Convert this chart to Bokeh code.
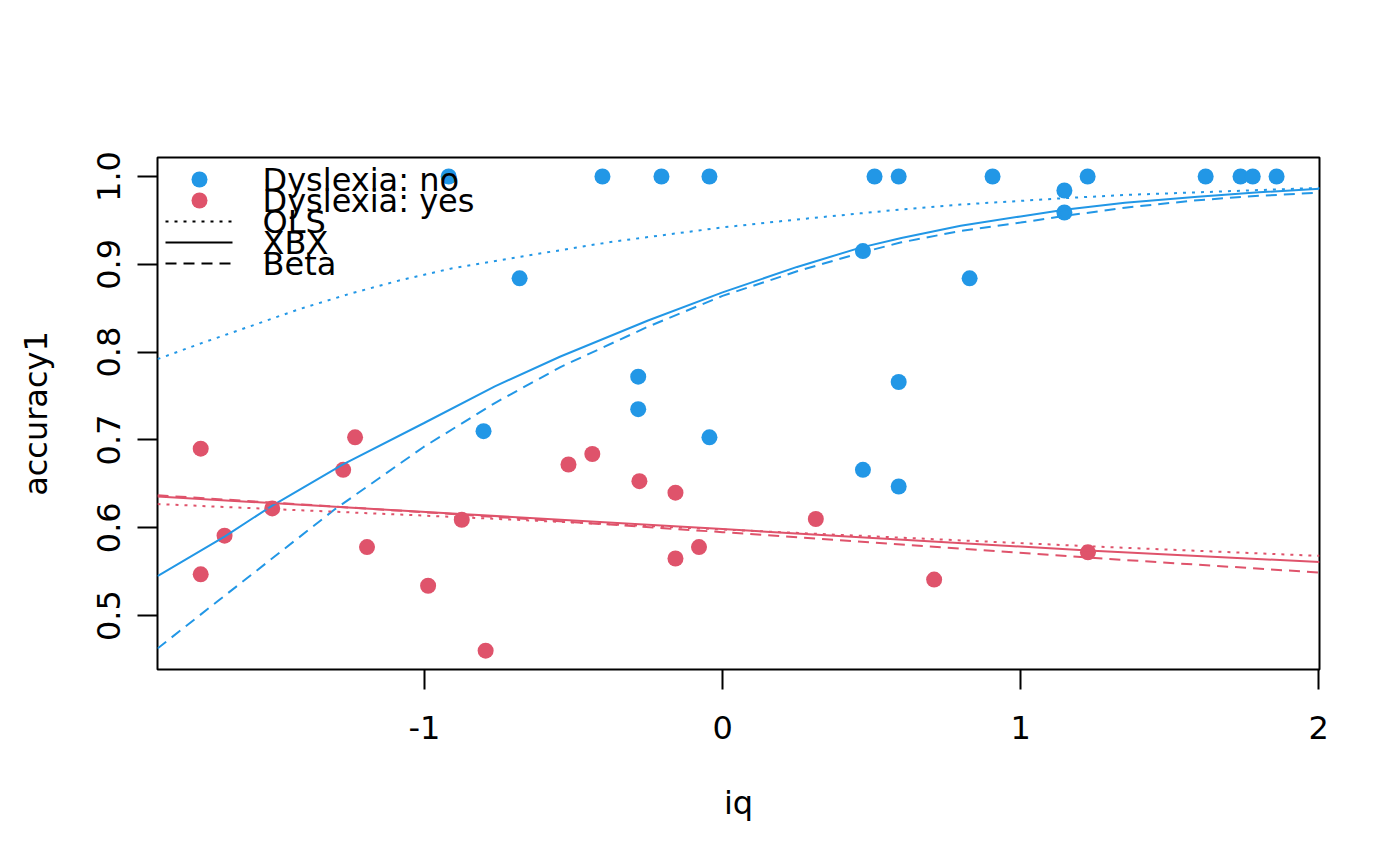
from bokeh.plotting import figure
from bokeh.models import Range1d, FixedTicker
from bokeh.embed import file_html
from bokeh.resources import INLINE
from bokeh.core.properties import value

# ---------------- data ----------------
iq_no = [-0.919, -0.403, -0.205, -0.044, 0.510, 0.591, 0.906, 1.225, 1.621, 1.738,
         1.779, 1.859, 1.147, 1.147, 0.471, 0.829, -0.283, 0.591, -0.283, -0.044,
         0.471, 0.591, -0.681, -0.802]
acc_no = [1.0, 1.0, 1.0, 1.0, 1.0, 1.0, 1.0, 1.0, 1.0, 1.0,
          1.0, 1.0, 0.984, 0.959, 0.915, 0.884, 0.772, 0.766, 0.735, 0.703,
          0.666, 0.647, 0.884, 0.710]

iq_yes = [-1.751, -1.233, -1.273, -1.511, -1.671, -1.193, -1.751, -0.988, -0.875, -0.795,
          -0.517, -0.437, -0.279, -0.158, -0.158, -0.079, 0.313, 1.226, 0.710]
acc_yes = [0.690, 0.703, 0.666, 0.622, 0.591, 0.578, 0.547, 0.534, 0.609, 0.460,
           0.672, 0.684, 0.653, 0.640, 0.565, 0.578, 0.610, 0.572, 0.541]

# fitted curves, Dyslexia: no
ols_no_x = [-1.896, -1.75, -1.584, -1.42, -1.248, -1.08, -0.913, -0.680, -0.376, -0.25,
            0.0, 0.25, 0.463, 0.6, 0.799, 1.132, 1.35, 1.6, 1.8, 2.003]
ols_no_y = [0.792, 0.810, 0.8295, 0.849, 0.8667, 0.882, 0.895, 0.9085, 0.9254, 0.931,
            0.942, 0.951, 0.958, 0.9625, 0.968, 0.975, 0.979, 0.982, 0.9845, 0.987]
xbx_no_x = [-1.896, -1.671, -1.512, -1.275, -1.003, -0.764, -0.544, -0.25, 0.0, 0.25,
            0.463, 0.6, 0.799, 1.0, 1.147, 1.35, 1.594, 1.8, 2.003]
xbx_no_y = [0.545, 0.590, 0.625, 0.672, 0.719, 0.761, 0.795, 0.836, 0.868, 0.897,
            0.919, 0.930, 0.944, 0.9545, 0.962, 0.970, 0.977, 0.982, 0.986]
beta_no_x = [-1.896, -1.688, -1.303, -1.15, -1.003, -0.764, -0.544, -0.25, 0.0, 0.25,
             0.463, 0.6, 0.799, 1.0, 1.147, 1.35, 1.594, 1.8, 2.003]
beta_no_y = [0.4625, 0.518, 0.6205, 0.657, 0.692, 0.742, 0.783, 0.829, 0.864, 0.892,
             0.913, 0.925, 0.938, 0.9475, 0.955, 0.9645, 0.973, 0.978, 0.9815]

# fitted curves, Dyslexia: yes
ols_yes_x = [-1.896, -0.878, 0.0, 1.226, 2.003]
ols_yes_y = [0.627, 0.612, 0.598, 0.579, 0.568]
xbx_yes_x = [-1.896, -0.878, 0.0, 1.226, 2.003]
xbx_yes_y = [0.6356, 0.6156, 0.5985, 0.574, 0.561]
beta_yes_x = [-1.896, -0.878, 0.0, 1.226, 2.003]
beta_yes_y = [0.637, 0.615, 0.595, 0.566, 0.549]

x_ticks = [-1, 0, 1, 2]
x_tick_labels = ["-1", "0", "1", "2"]
y_ticks = [0.5, 0.6, 0.7, 0.8, 0.9, 1.0]
y_tick_labels = ["0.5", "0.6", "0.7", "0.8", "0.9", "1.0"]

legend_labels = ["Dyslexia: no", "Dyslexia: yes", "OLS", "XBX", "Beta"]

# ---------------- styling ----------------
BLUE = "#2297E6"
RED = "#DF536B"
FONT = "DejaVu Sans"
FS = "32px"
DOT = "3 6"
DASH = "11 7"

X0, X1 = -1.896, 2.003
Y0, Y1 = 0.4386, 1.0216
FW, FH = 1162, 512

p = figure(frame_width=FW, frame_height=FH, output_backend="svg", toolbar_location=None,
           x_range=Range1d(X0, X1), y_range=Range1d(Y0, Y1),
           min_border_left=157, min_border_right=73, min_border_top=157, min_border_bottom=189,
           background_fill_color="white", border_fill_color="white")

p.xgrid.visible = False
p.ygrid.visible = False
p.outline_line_color = "black"
p.outline_line_width = 2
p.outline_line_alpha = 1.0

p.xaxis.ticker = FixedTicker(ticks=x_ticks)
p.xaxis.major_label_overrides = {t: l for t, l in zip(x_ticks, x_tick_labels)}
p.yaxis.ticker = FixedTicker(ticks=y_ticks)
p.yaxis.major_label_overrides = {t: l for t, l in zip(y_ticks, y_tick_labels)}
p.yaxis.major_label_orientation = "vertical"

for ax in (p.xaxis[0], p.yaxis[0]):
    ax.axis_line_color = None
    ax.major_tick_line_color = "black"
    ax.major_tick_line_width = 2
    ax.major_tick_out = 20
    ax.major_tick_in = 0
    ax.minor_tick_line_color = None
    ax.major_label_text_font = FONT
    ax.major_label_text_font_size = FS
    ax.major_label_text_color = "black"
    ax.axis_label_text_font = FONT
    ax.axis_label_text_font_size = FS
    ax.axis_label_text_font_style = "normal"
    ax.axis_label_text_color = "black"

p.xaxis.axis_label = "iq"
p.yaxis.axis_label = "accuracy1"
p.xaxis.major_label_standoff = 26
p.yaxis.major_label_standoff = 17
p.xaxis.axis_label_standoff = 42
p.yaxis.axis_label_standoff = 40

# points
p.scatter(iq_no, acc_no, size=16, fill_color=BLUE, line_color=None)
p.scatter(iq_yes, acc_yes, size=16, fill_color=RED, line_color=None)

# fitted lines
p.line(ols_no_x, ols_no_y, line_color=BLUE, line_width=2, line_dash=DOT)
p.line(xbx_no_x, xbx_no_y, line_color=BLUE, line_width=2)
p.line(beta_no_x, beta_no_y, line_color=BLUE, line_width=2, line_dash=DASH)
p.line(ols_yes_x, ols_yes_y, line_color=RED, line_width=2, line_dash=DOT)
p.line(xbx_yes_x, xbx_yes_y, line_color=RED, line_width=2)
p.line(beta_yes_x, beta_yes_y, line_color=RED, line_width=2, line_dash=DASH)

# legend (positions in frame pixels converted to data coordinates)
def fx(px):
    return X0 + px * (X1 - X0) / FW

def fy(py):
    return Y1 - py * (Y1 - Y0) / FH

rows = [22, 43, 64, 85, 106]
p.scatter([fx(42)], [fy(rows[0])], size=16, fill_color=BLUE, line_color=None)
p.scatter([fx(42)], [fy(rows[1])], size=16, fill_color=RED, line_color=None)
p.line([fx(8), fx(75)], [fy(rows[2])] * 2, line_color="black", line_width=2, line_dash=DOT)
p.line([fx(8), fx(75)], [fy(rows[3])] * 2, line_color="black", line_width=2)
p.line([fx(8), fx(75)], [fy(rows[4])] * 2, line_color="black", line_width=2, line_dash=DASH)
p.text([fx(105)] * 5, [fy(r) for r in rows], text=legend_labels,
       text_font=value(FONT), text_font_size=value(FS), text_color="black",
       text_align="left", text_baseline="middle")

open("out.html", "w").write(file_html(p, INLINE))
